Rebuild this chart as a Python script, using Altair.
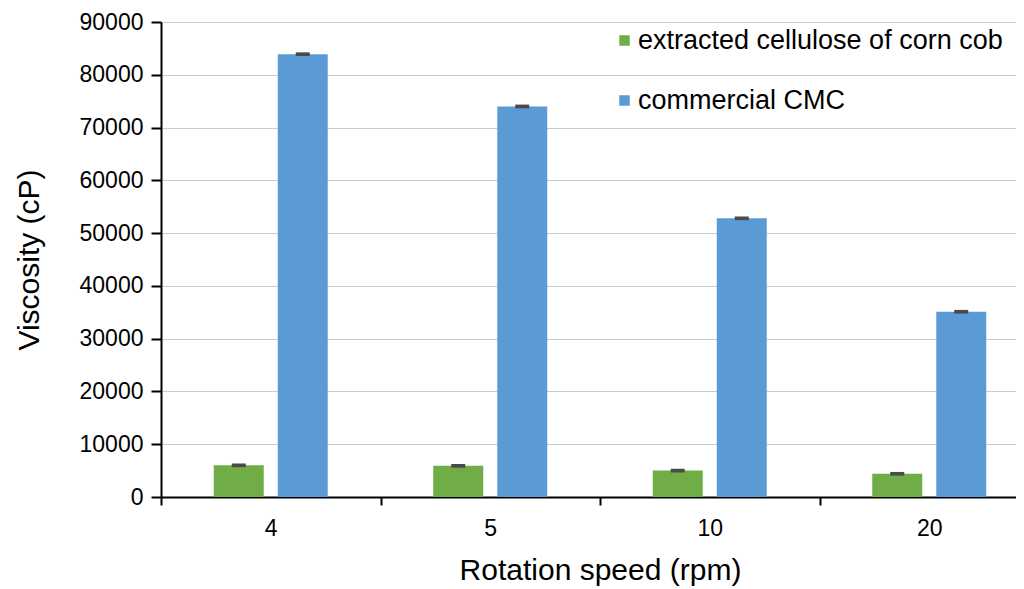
import altair as alt
import pandas as pd

speeds = ["4", "5", "10", "20"]
series_names = ["extracted cellulose of corn cob", "commercial CMC"]
cellulose = [6000, 5900, 5000, 4400]
cmc = [83900, 74000, 52800, 35100]
err_cellulose = [350, 350, 350, 350]
err_cmc = [350, 350, 350, 350]
colors = ["#70ad47", "#5b9bd5"]

rows = []
for i, s in enumerate(speeds):
    rows.append({"speed": s, "series": series_names[0], "value": cellulose[i],
                 "lo": cellulose[i] - err_cellulose[i], "hi": cellulose[i] + err_cellulose[i]})
    rows.append({"speed": s, "series": series_names[1], "value": cmc[i],
                 "lo": cmc[i] - err_cmc[i], "hi": cmc[i] + err_cmc[i]})
df = pd.DataFrame(rows)

FONT = "Liberation Sans"

x_enc = alt.X("speed:N", sort=speeds, title="Rotation speed (rpm)",
              scale=alt.Scale(range=[0, 878], paddingInner=0, paddingOuter=0),
              axis=alt.Axis(labelAngle=0, tickBand="extent", tickSize=8, tickWidth=2,
                            tickColor="black", domainColor="black", domainWidth=2,
                            labelFontSize=23, labelPadding=12, titleFontSize=30,
                            titlePadding=15, labelColor="black", titleColor="black",
                            titleFontWeight="normal", grid=False))
xoff = alt.XOffset("series:N", sort=series_names,
                   scale=alt.Scale(paddingInner=0.219, paddingOuter=0.824))

y_scale = alt.Scale(domain=[0, 90000], nice=False)

bars = alt.Chart(df).mark_bar().encode(
    x=x_enc,
    xOffset=xoff,
    y=alt.Y("value:Q", scale=y_scale, title="Viscosity (cP)",
            axis=alt.Axis(values=list(range(0, 90001, 10000)), format="d",
                          tickSize=10, tickWidth=2, tickColor="black",
                          domainColor="black", domainWidth=2,
                          labelFontSize=23, labelPadding=8, titleFontSize=30,
                          titlePadding=35, labelColor="black", titleColor="black",
                          titleFontWeight="normal",
                          grid=True, gridColor="#cccccc", gridWidth=1.2)),
    color=alt.Color("series:N", sort=series_names,
                    scale=alt.Scale(domain=series_names, range=colors),
                    legend=alt.Legend(title=None, orient="none", legendX=450, legendY=5,
                                      symbolType="square", symbolSize=110,
                                      symbolStrokeWidth=0, labelFontSize=27,
                                      labelColor="black", rowPadding=32,
                                      labelOffset=0, labelLimit=600)),
)

errs = alt.Chart(df).mark_bar(width=14, color="#4a4a4a").encode(
    x=alt.X("speed:N", sort=speeds),
    xOffset=xoff,
    y=alt.Y("lo:Q", scale=y_scale),
    y2="hi:Q",
)

chart = alt.layer(bars, errs).properties(
    width=855, height=475,
    autosize=alt.AutoSizeParams(type="none"),
    padding={"left": 153, "top": 14, "right": 0, "bottom": 92},
).configure(font=FONT).configure_view(stroke=None)

chart.save("out.html", embed_options={"renderer": "svg", "actions": False})
